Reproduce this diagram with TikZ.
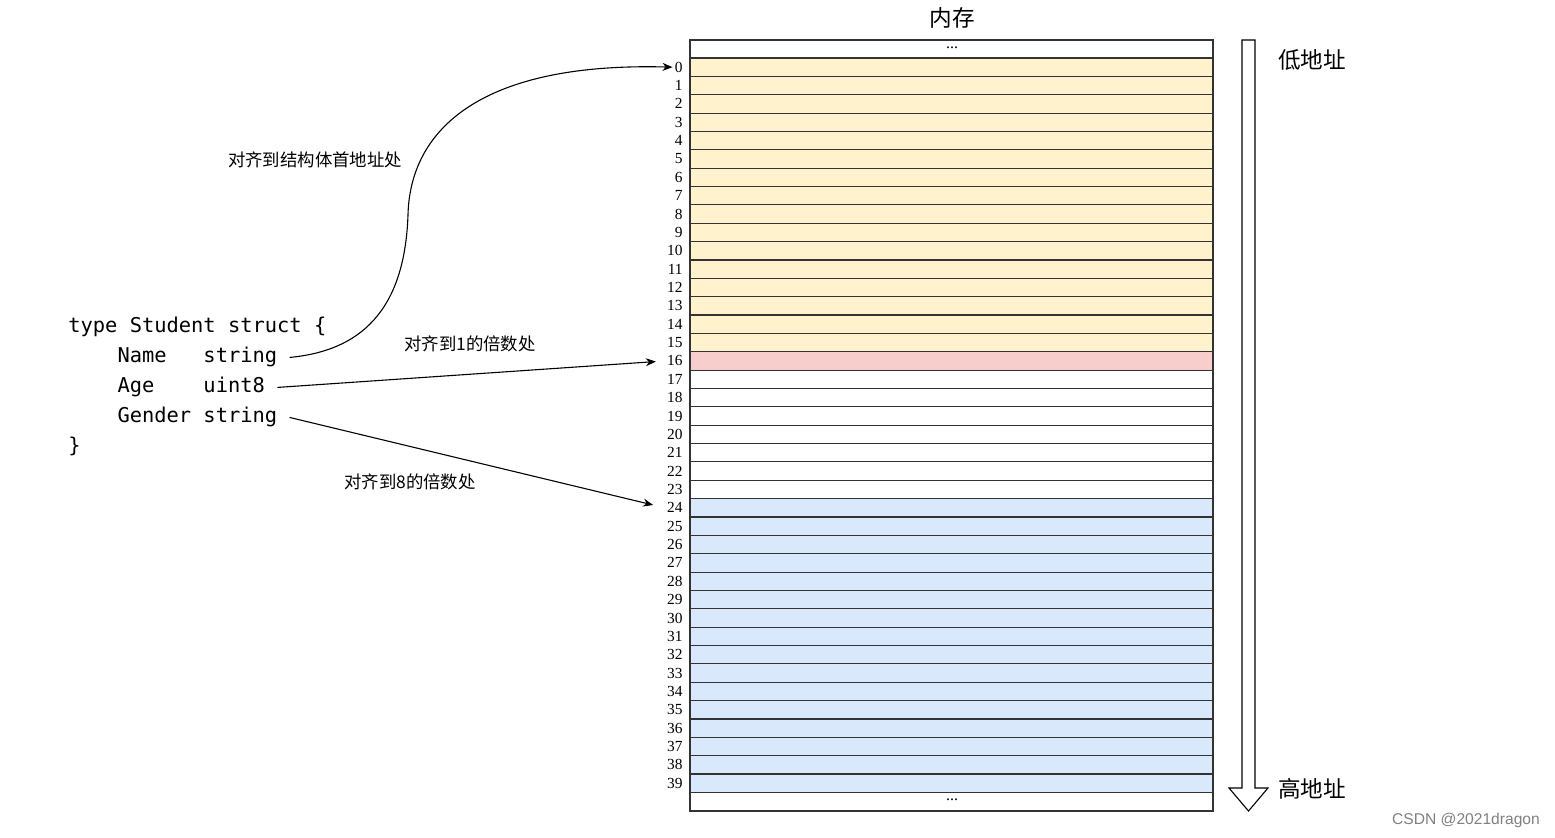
\documentclass[tikz,border=0pt]{standalone}
\usepackage{fontspec}
\setmainfont{Liberation Serif}
\setmonofont{DejaVu Sans Mono}
\newfontfamily\cjk{Noto Sans CJK SC}
\newfontfamily\wmfont{Liberation Sans}
\usepackage{xcolor}
\usetikzlibrary{arrows.meta}
\definecolor{memyellow}{HTML}{FFF2CC}
\definecolor{mempink}{HTML}{F8CECC}
\definecolor{memblue}{HTML}{DAE8FC}
\definecolor{memline}{HTML}{333333}

\tikzset{
	idx/.style={anchor=east, inner sep=1pt, font=\fontsize{7.7}{8}\selectfont},
	code/.style={anchor=base west, inner ysep=0pt, inner xsep=6pt, font=\ttfamily\fontsize{10.2}{12}\selectfont},
	note/.style={font=\cjk\fontsize{8.7}{10}\selectfont},
	big/.style={font=\cjk\fontsize{11.3}{13}\selectfont},
	link/.style={-{Stealth[length=5pt,width=4pt]}, line width=0.55pt}
}

\begin{document}
\begin{tikzpicture}[x=0.5pt, y=-0.5pt]
	\useasboundingbox (0,0) rectangle (1555,838);

	% memory cells
	\fill[memyellow] (690,58) rectangle (1213,351.8);
	\fill[mempink] (690,351.8) rectangle (1213,370.2);
	\fill[memblue] (690,498.6) rectangle (1213,792.4);
	\foreach \i in {0,...,40}
		\draw[memline, line width=0.55pt] (690,{58+\i*18.36}) -- (1213,{58+\i*18.36});
	\draw[memline, line width=0.6pt] (690,40) rectangle (1213,811);
	\node at (952,48) {\fontsize{8}{9}\selectfont ...};
	\node at (952,800) {\fontsize{8}{9}\selectfont ...};
	\foreach \i in {0,...,39}
		\node[idx] (a\i) at (685,{58+(\i+0.5)*18.36}) {\i};

	\node[big] (mem) at (952,18) {内存};

	% address direction
	\draw[black, line width=0.55pt] (1242,40) -- (1255,40) -- (1255,788) -- (1268,788) -- (1248.5,811)
		-- (1229,788) -- (1242,788) -- cycle;
	\node[big] (low) at (1312,60) {低地址};
	\node[big] (high) at (1312,789) {高地址};

	% struct
	\node[code] (ty) at (56,333) {type Student struct \{};
	\node[code] (nm) at (56,363) {~~~~Name~~~string};
	\node[code] (ag) at (56,393) {~~~~Age~~~~uint8};
	\node[code] (gd) at (56,423) {~~~~Gender~string};
	\node[code] (cl) at (56,453) {\}};

	\draw[link] (nm.east) .. controls (370,350) and (405,300) .. (408,215)
		.. controls (410,130) and (480,62) .. (a0.west);
	\draw[link, shorten >=4.5pt] (ag.east) -- (a16.west);
	\draw[link, shorten >=6pt] (gd.east) -- (a24.west);

	\node[note] (t0) at (315,160) {对齐到结构体首地址处};
	\node[note] (t1) at (470,344) {对齐到1的倍数处};
	\node[note] (t8) at (410,482) {对齐到8的倍数处};

	\node[text=gray, font=\wmfont\fontsize{7.8}{9}\selectfont] (wm) at (1466,820) {CSDN @2021dragon};
\end{tikzpicture}
\end{document}
